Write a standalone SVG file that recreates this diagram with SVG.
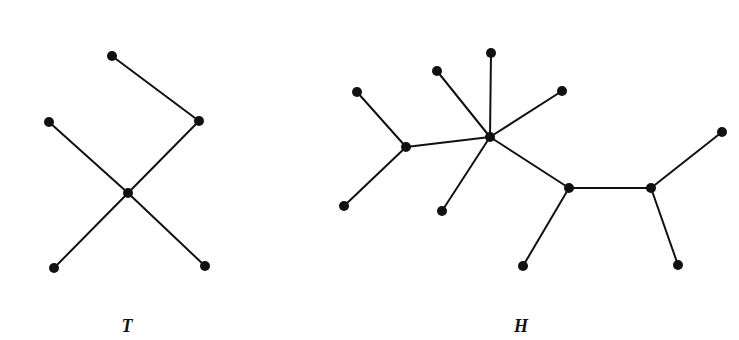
<svg xmlns="http://www.w3.org/2000/svg" width="739" height="340" viewBox="0 0 739 340">
<style>
.e{stroke:#111;stroke-width:2;fill:none;stroke-linecap:round}
.n{fill:#111}
.lbl{font-family:"Liberation Serif","DejaVu Serif",serif;font-style:italic;font-weight:bold;font-size:18px;fill:#111;text-anchor:middle}
</style>
<rect width="739" height="340" fill="#fff"/>
<g id="connectors">
<path class="e" d="M112,56L199,121M199,121L128,193M49,122L128,193M128,193L54,268M128,193L205,266"/>
<path class="e" d="M490,137L491,53M490,137L437,71M490,137L562,91M490,137L406,147M490,137L442,211M490,137L569,188M406,147L357,92M406,147L344,206M569,188L651,188M569,188L523,266M651,188L722,132M651,188L678,265"/>
</g>
<g id="T-nodes">
<circle id="t1" class="n" cx="112" cy="56" r="5"/>
<circle id="t2" class="n" cx="199" cy="121" r="5"/>
<circle id="t3" class="n" cx="49" cy="122" r="5"/>
<circle id="t4" class="n" cx="128" cy="193" r="5"/>
<circle id="t5" class="n" cx="54" cy="268" r="5"/>
<circle id="t6" class="n" cx="205" cy="266" r="5"/>
</g>
<g id="H-nodes">
<circle id="h1" class="n" cx="491" cy="53" r="5"/>
<circle id="h2" class="n" cx="437" cy="71" r="5"/>
<circle id="h3" class="n" cx="357" cy="92" r="5"/>
<circle id="h4" class="n" cx="562" cy="91" r="5"/>
<circle id="h5" class="n" cx="490" cy="137" r="5"/>
<circle id="h6" class="n" cx="406" cy="147" r="5"/>
<circle id="h7" class="n" cx="344" cy="206" r="5"/>
<circle id="h8" class="n" cx="442" cy="211" r="5"/>
<circle id="h9" class="n" cx="569" cy="188" r="5"/>
<circle id="h10" class="n" cx="523" cy="266" r="5"/>
<circle id="h11" class="n" cx="651" cy="188" r="5"/>
<circle id="h12" class="n" cx="722" cy="132" r="5"/>
<circle id="h13" class="n" cx="678" cy="265" r="5"/>
</g>
<g id="labels">
<text class="lbl" x="127" y="332">T</text>
<text class="lbl" x="521" y="332">H</text>
</g>
</svg>
